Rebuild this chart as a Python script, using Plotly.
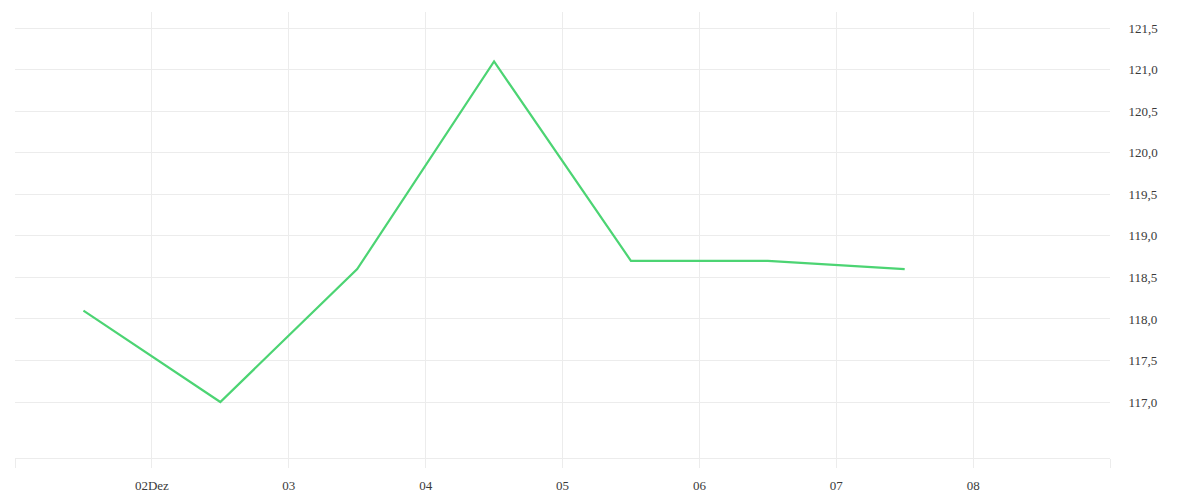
import plotly.graph_objects as go

# Valores diários (medidos ao meio-dia)
datas = ["2023-12-01 12:00", "2023-12-02 12:00", "2023-12-03 12:00", "2023-12-04 12:00",
         "2023-12-05 12:00", "2023-12-06 12:00", "2023-12-07 12:00"]
valores = [118.1, 117.0, 118.6, 121.1, 118.7, 118.7, 118.6]

# Marcas do eixo x
dias_ticks = ["2023-12-01", "2023-12-02", "2023-12-03", "2023-12-04", "2023-12-05",
              "2023-12-06", "2023-12-07", "2023-12-08", "2023-12-09"]
rotulos_ticks = ["", "02Dez", "03", "04", "05", "06", "07", "08", ""]

# Marcas do eixo y
y_ticks = [117.0, 117.5, 118.0, 118.5, 119.0, 119.5, 120.0, 120.5, 121.0, 121.5]

grade = "#ececec"
fonte = dict(family="Liberation Serif", size=13, color="#3a3a3a")

fig = go.Figure(go.Scatter(x=datas, y=valores, mode="lines",
                           line=dict(color="#4cd473", width=2.2)))

fig.update_layout(
    width=1184, height=484,
    margin=dict(l=7, r=82, t=4, b=34),
    paper_bgcolor="white", plot_bgcolor="white",
    separators=",.",
    showlegend=False,
    font=fonte,
)

fig.update_xaxes(
    type="date", range=["2023-12-01", "2023-12-09"],
    tickvals=dias_ticks, ticktext=rotulos_ticks, tickfont=fonte,
    showgrid=True, gridcolor=grade, gridwidth=1,
    ticks="outside", ticklen=9, tickcolor=grade,
    showline=True, linecolor=grade, linewidth=1,
    zeroline=False, ticklabelstandoff=6, automargin=False,
)

fig.update_yaxes(
    side="right", range=[116.326, 121.696],
    tickvals=y_ticks, tickformat=".1f", tickfont=fonte,
    showgrid=True, gridcolor=grade, gridwidth=1,
    ticks="outside", ticklen=15, tickcolor="rgba(0,0,0,0)",
    showline=False, zeroline=False, automargin=False,
)

fig.write_html("out.html")
